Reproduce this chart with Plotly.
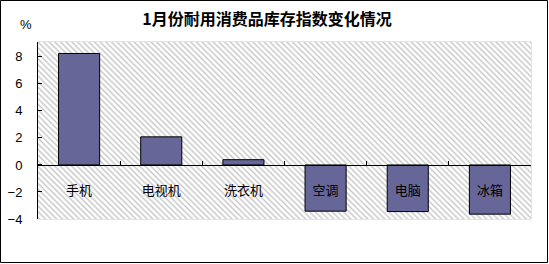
import plotly.graph_objects as go

categories = ["手机", "电视机", "洗衣机", "空调", "电脑", "冰箱"]
values = [8.25, 2.08, 0.39, -3.42, -3.45, -3.64]
y_ticks = [-4, -2, 0, 2, 4, 6, 8]
title_text = "1月份耐用消费品库存指数变化情况"
unit_text = "%"

W, H = 549, 264
ML, MR, MT, MB = 38, 18, 42, 45
PW, PH = W - ML - MR, H - MT - MB
Y_MIN, Y_MAX = -4, 9.1

fig = go.Figure()

# hatched plot-area background (main axes, hidden)
fig.add_trace(go.Scatter(
    x=[0, 1, 1, 0, 0], y=[0, 0, 1, 1, 0], mode="lines", fill="toself",
    line=dict(width=0), fillcolor="white",
    fillpattern=dict(shape="\\", fgcolor="#8c8c8c", bgcolor="white", size=4, solidity=0.35),
    hoverinfo="skip", showlegend=False, xaxis="x", yaxis="y"))

fig.add_trace(go.Bar(
    x=categories, y=values, marker=dict(color="#666699", line=dict(color="black", width=1)),
    width=0.5, showlegend=False, xaxis="x2", yaxis="y2"))

def px_to_paper_x(p):
    return (p - ML) / PW

def px_to_paper_y(p):
    return (H - MB - p) / PH

fig.update_layout(
    width=W, height=H,
    margin=dict(l=ML, r=MR, t=MT, b=MB, autoexpand=False),
    paper_bgcolor="white", plot_bgcolor="white",
    font=dict(family="Liberation Sans, Arial, sans-serif", size=13, color="black"),
    title=dict(text="<b>" + title_text + "</b>", x=px_to_paper_x(267), xref="paper", xanchor="center",
               y=1 - 19 / H, yref="container", yanchor="middle",
               font=dict(family="Noto Sans CJK SC", size=16, color="black")),
    xaxis=dict(range=[0, 1], visible=False, fixedrange=True, automargin=False),
    yaxis=dict(range=[0, 1], visible=False, fixedrange=True, automargin=False),
    xaxis2=dict(overlaying="x", anchor="free", position=(0 - Y_MIN) / (Y_MAX - Y_MIN),
                range=[-0.5, 5.5], showline=True, linecolor="black", linewidth=1,
                ticks="inside", ticklen=4, tickcolor="black", tickson="boundaries",
                showgrid=False, zeroline=False, ticklabelstandoff=13, automargin=False,
                tickfont=dict(family="Noto Sans CJK SC", size=13, color="black")),
    yaxis2=dict(overlaying="y", anchor="x2", range=[Y_MIN, Y_MAX], tickvals=y_ticks,
                showline=True, linecolor="black", linewidth=1, automargin=False,
                ticks="inside", ticklen=4, tickcolor="black", showgrid=False, zeroline=False,
                ticklabelstandoff=12, tickfont=dict(size=13, color="black")),
    bargap=0.5,
)

# plot area light border
fig.add_shape(type="rect", xref="paper", yref="paper", x0=0, x1=1, y0=0, y1=1,
              line=dict(color="#c8c8c8", width=1), fillcolor="rgba(0,0,0,0)", layer="below")
# outer chart border
fig.add_shape(type="rect", xref="paper", yref="paper",
              x0=px_to_paper_x(0.5), x1=px_to_paper_x(547.5),
              y0=px_to_paper_y(262.5), y1=px_to_paper_y(0.5),
              line=dict(color="black", width=1), fillcolor="rgba(0,0,0,0)")

fig.add_annotation(text=unit_text, xref="paper", yref="paper",
                   x=px_to_paper_x(26), y=px_to_paper_y(24), showarrow=False,
                   font=dict(size=13, color="black"), xanchor="center", yanchor="middle")

fig.write_html("out.html")
